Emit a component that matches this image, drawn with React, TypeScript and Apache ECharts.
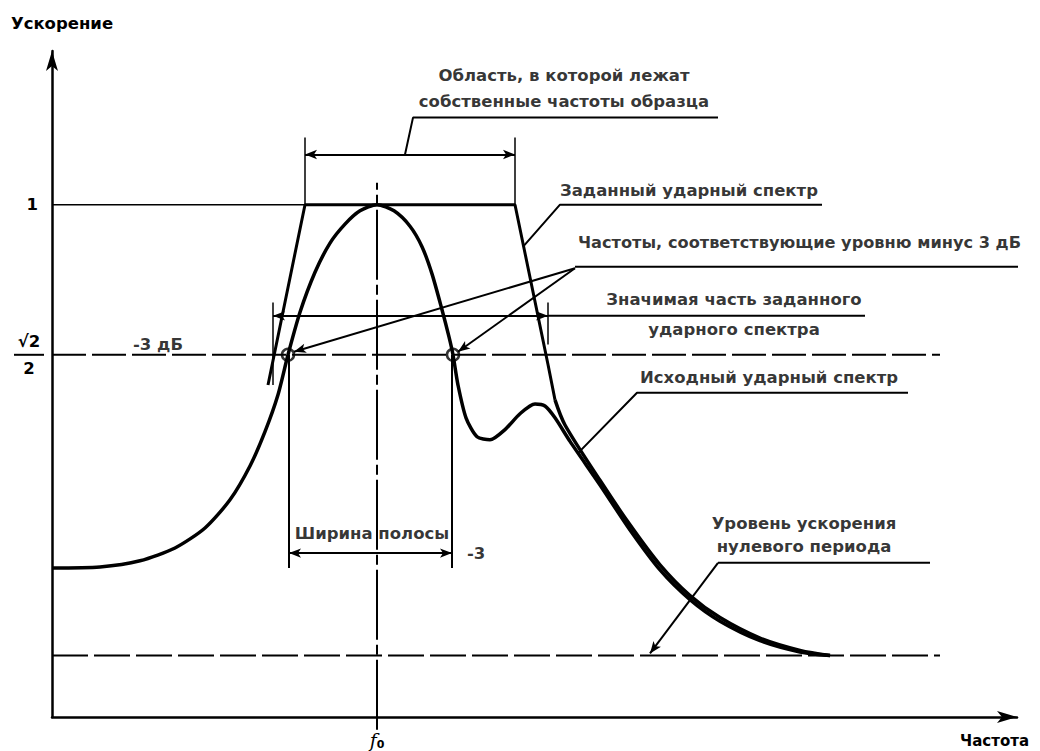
import React, { useEffect, useRef } from "react";
import * as echarts from "echarts";

const FONT = "'DejaVu Sans', 'Liberation Sans', sans-serif";
const BLACK = "#000";

// Characteristic levels (acceleration relative to the specified spectrum level = 1)
const LEVEL_ONE = 1.0;
const LEVEL_MINUS_3DB = 0.707;
const LEVEL_ZPA = 0.12;
const F0 = 32.5;
const X_MAX = 96.5;
const Y_MAX = 1.3;
const DASHED_END = 88.8;

// Исходный ударный спектр
const originalSpectrum: [number, number][] = [
  [0, 0.291], [4.8, 0.293], [8.8, 0.305], [12.3, 0.33], [15.3, 0.369], [17.8, 0.424],
  [19.8, 0.49], [21.3, 0.557], [22.6, 0.629], [23.6, 0.707], [24.8, 0.79], [26.3, 0.868],
  [27.8, 0.925], [29.3, 0.962], [30.8, 0.988], [32.5, 1.0], [34.2, 0.988], [35.8, 0.958],
  [37.0, 0.918], [38.0, 0.865], [39.0, 0.795], [39.7, 0.742], [40.1, 0.707], [40.6, 0.648],
  [41.4, 0.584], [42.5, 0.547], [43.8, 0.541], [45.3, 0.561], [46.8, 0.592], [48.3, 0.611],
  [49.3, 0.607], [50.3, 0.584], [51.8, 0.538], [54.8, 0.453], [57.8, 0.365], [60.8, 0.287],
  [63.8, 0.229], [66.8, 0.187], [70.8, 0.149], [74.8, 0.127], [77.8, 0.12],
];

// Заданный ударный спектр
const specifiedTrapezoid: [number, number][] = [
  [21.6, 0.648], [25.3, 1.0], [46.3, 1.0], [49.6, 0.688], [50.3, 0.619],
];
const specifiedTail: [number, number][] = [
  [50.3, 0.619], [51.3, 0.57], [54.8, 0.462], [57.8, 0.375], [60.8, 0.297], [63.8, 0.237],
  [66.8, 0.194], [70.8, 0.154], [74.8, 0.13], [77.8, 0.12],
];

// Frequencies at the -3 dB level
const minus3dBFreqs: number[] = [23.6, 40.1];

// Tick labels
const yTickValues: number[] = [LEVEL_MINUS_3DB, LEVEL_ONE];
const xTickValues: number[] = [F0];

type Seg = { pts: [number, number][]; width?: number; dash?: number[] | "solid" };

// Plain reference / leader lines
const plainLines: Seg[] = [
  { pts: [[0, LEVEL_ONE], [25.3, LEVEL_ONE]], width: 1.5 },
  { pts: [[0, LEVEL_MINUS_3DB], [DASHED_END, LEVEL_MINUS_3DB]], width: 2, dash: [34, 6] },
  { pts: [[0, LEVEL_ZPA], [DASHED_END, LEVEL_ZPA]], width: 2, dash: [36, 6] },
  { pts: [[F0, -0.025], [F0, 1.043]], width: 2, dash: [70, 5, 10, 5] },
  // bracket of natural frequencies region
  { pts: [[25.3, 1.0], [25.3, 1.131]], width: 1.5 },
  { pts: [[46.3, 1.0], [46.3, 1.131]], width: 1.5 },
  { pts: [[35.3, 1.098], [36.1, 1.17], [66.6, 1.17]], width: 2 },
  // specified spectrum leader
  { pts: [[47.2, 0.92], [50.8, 1.0], [77.0, 1.0]], width: 2 },
  // -3 dB frequencies underline
  { pts: [[52.3, 0.879], [98.8, 0.879]], width: 2 },
  // significant part bracket
  { pts: [[22.1, 0.809], [22.1, 0.648]], width: 1.5 },
  { pts: [[49.6, 0.809], [49.6, 0.727]], width: 1.5 },
  { pts: [[49.6, 0.783], [81.3, 0.783]], width: 2 },
  // original spectrum leader
  { pts: [[52.6, 0.515], [58.5, 0.633], [85.6, 0.633]], width: 2 },
  // zero period acceleration underline
  { pts: [[66.6, 0.301], [87.8, 0.301]], width: 2 },
  // bandwidth verticals
  { pts: [[23.7, LEVEL_MINUS_3DB], [23.7, 0.291]], width: 2 },
  { pts: [[40.0, LEVEL_MINUS_3DB], [40.0, 0.291]], width: 2 },
];

type Arrow = { from: [number, number]; to: [number, number]; both?: boolean };
const arrowLines: Arrow[] = [
  { from: [25.3, 1.098], to: [46.3, 1.098], both: true },
  { from: [22.1, 0.783], to: [49.6, 0.783], both: true },
  { from: [23.7, 0.32], to: [40.0, 0.32], both: true },
  { from: [52.3, 0.876], to: [24.2, 0.713] },
  { from: [52.3, 0.876], to: [40.6, 0.713] },
  { from: [66.6, 0.301], to: [59.8, LEVEL_ZPA + 0.004] },
];

type Note = { x: number; y: number; text: string; align: "left" | "center" | "right"; size?: number };
const notes: Note[] = [
  { x: 51.2, y: 1.252, text: "Область, в которой лежат", align: "center" },
  { x: 51.2, y: 1.201, text: "собственные частоты образца", align: "center" },
  { x: 50.8, y: 1.027, text: "Заданный ударный спектр", align: "left" },
  { x: 52.6, y: 0.926, text: "Частоты, соответствующие уровню минус 3 дБ", align: "left", size: 16.2 },
  { x: 68.2, y: 0.814, text: "Значимая часть заданного", align: "center" },
  { x: 68.2, y: 0.756, text: "ударного спектра", align: "center" },
  { x: 58.8, y: 0.662, text: "Исходный ударный спектр", align: "left" },
  { x: 75.2, y: 0.377, text: "Уровень ускорения", align: "center" },
  { x: 75.2, y: 0.332, text: "нулевого периода", align: "center" },
  { x: 32.0, y: 0.359, text: "Ширина полосы", align: "center" },
  { x: 41.5, y: 0.32, text: "-3", align: "left" },
  { x: 8.1, y: 0.727, text: "-3 дБ", align: "left" },
];

const textStyle = {
  color: BLACK,
  fontFamily: FONT,
  fontWeight: "bold" as const,
  fontSize: 16.5,
};

export default function App() {
  const ref = useRef<HTMLDivElement>(null);

  useEffect(() => {
    if (!ref.current) return;
    const chart = echarts.init(ref.current, null, { renderer: "svg" });

    const series: any[] = [];

    series.push({
      name: "Исходный ударный спектр",
      type: "line",
      data: originalSpectrum,
      smooth: 0.25,
      symbol: "none",
      clip: false,
      silent: true,
      lineStyle: { color: BLACK, width: 3.5 },
      z: 4,
    });
    series.push({
      name: "Заданный ударный спектр",
      type: "line",
      data: specifiedTrapezoid,
      symbol: "none",
      clip: false,
      silent: true,
      lineStyle: { color: BLACK, width: 3 },
      z: 4,
    });
    series.push({
      name: "Заданный ударный спектр",
      type: "line",
      data: specifiedTail,
      smooth: 0.3,
      symbol: "none",
      clip: false,
      silent: true,
      lineStyle: { color: BLACK, width: 3.5 },
      z: 4,
    });

    plainLines.forEach((s) => {
      series.push({
        type: "line",
        data: s.pts,
        symbol: "none",
        clip: false,
        silent: true,
        lineStyle: { color: BLACK, width: s.width ?? 2, type: s.dash ?? "solid" },
        z: 3,
      });
    });

    series.push({
      type: "line",
      data: [[0, 0]],
      symbol: "none",
      clip: false,
      silent: true,
      lineStyle: { width: 0 },
      markLine: {
        silent: true,
        animation: false,
        label: { show: false },
        emphasis: { disabled: true },
        lineStyle: { color: BLACK, width: 2, type: "solid" },
        symbolSize: [7, 12],
        data: arrowLines.map((a) => [
          { coord: a.from, symbol: a.both ? "arrow" : "none" },
          { coord: a.to, symbol: "arrow" },
        ]),
      },
    });

    series.push({
      type: "scatter",
      data: minus3dBFreqs.map((f) => [f, LEVEL_MINUS_3DB]),
      symbol: "circle",
      symbolSize: 12,
      clip: false,
      silent: true,
      itemStyle: { color: "rgba(0,0,0,0)", borderColor: BLACK, borderWidth: 2.5 },
      z: 6,
    });

    series.push({
      type: "scatter",
      symbolSize: 0,
      clip: false,
      silent: true,
      z: 7,
      data: notes.map((n) => ({
        value: [n.x, n.y],
        label: {
          show: true,
          position: "inside",
          formatter: n.text,
          align: n.align,
          verticalAlign: "middle",
          ...textStyle,
          fontSize: n.size ?? textStyle.fontSize,
        },
      })),
    });

    const axisLine = {
      show: true,
      onZero: false,
      symbol: ["none", "arrow"],
      symbolSize: [9, 20],
      lineStyle: { color: BLACK, width: 2.5 },
    };

    chart.setOption({
      animation: false,
      backgroundColor: "#fff",
      grid: { left: 52, right: 23, top: 51, bottom: 34, outerBoundsMode: "none" },
      xAxis: {
        type: "value",
        min: 0,
        max: X_MAX,
        name: "Частота",
        nameLocation: "end",
        nameGap: 12,
        nameTextStyle: { ...textStyle, fontSize: 15, align: "right", verticalAlign: "top", padding: [16, 0, 0, 0] },
        axisLine,
        axisTick: { show: false },
        splitLine: { show: false },
        axisLabel: {
          customValues: xTickValues,
          margin: 12,
          formatter: () => "{i|f}{s|0}",
          rich: {
            i: { fontFamily: "'DejaVu Serif', serif", fontStyle: "italic", fontSize: 19, color: BLACK },
            s: { fontFamily: FONT, fontWeight: "bold", fontSize: 11, color: BLACK, padding: [10, 0, 0, 0] },
          },
        },
      },
      yAxis: {
        type: "value",
        min: 0,
        max: Y_MAX,
        name: "Ускорение",
        nameLocation: "end",
        nameGap: 19,
        nameTextStyle: { ...textStyle, padding: [0, 0, 0, 20] },
        axisLine,
        axisTick: { show: false },
        splitLine: { show: false },
        axisLabel: {
          customValues: yTickValues,
          margin: 8,
          formatter: (v: number) => (v === LEVEL_ONE ? "{one|1}" : "{n|√2}\n{bar|}\n{d|2}"),
          rich: {
            one: { ...textStyle, padding: [0, 6, 0, 0] },
            n: { ...textStyle, lineHeight: 24, align: "center" },
            bar: { width: 30, height: 2, lineHeight: 3, backgroundColor: BLACK, align: "center" },
            d: { ...textStyle, lineHeight: 24, align: "center" },
          },
        },
      },
      series,
    });

    return () => chart.dispose();
  }, []);

  return (
    <div
      ref={ref}
      style={{ position: "fixed", left: 0, top: 0, width: 1040, height: 751, background: "#fff" }}
    />
  );
}
